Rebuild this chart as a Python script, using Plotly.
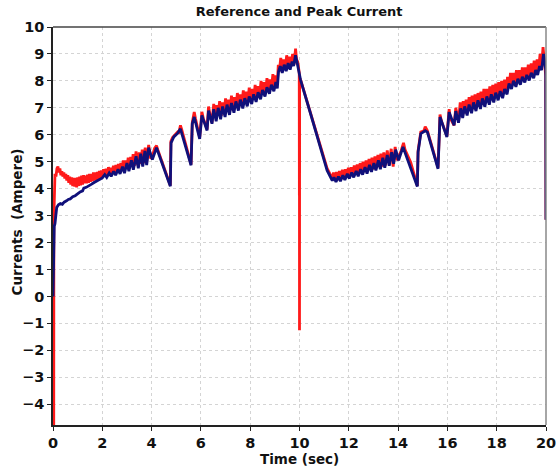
import plotly.graph_objects as go

# Peak current (blue trace): sample times in seconds and currents in amperes
peak_t = [0, 0.015, 0.04, 0.05, 0.08, 0.1, 0.15, 0.22, 0.3, 0.38, 0.45, 0.55, 0.62, 0.7, 0.8, 0.9, 1.0,
          1.1, 1.2, 1.25, 1.35, 1.45, 1.55, 1.65, 1.75, 1.85,
          2.0, 2.10, 2.18, 2.28, 2.36, 2.46, 2.54, 2.64, 2.72, 2.82, 2.90, 3.00, 3.08, 3.18, 3.26, 3.37,
          3.46, 3.56, 3.64, 3.73, 3.80, 3.88, 4.03, 4.20, 4.76, 4.79, 4.90, 5.05, 5.17, 5.60, 5.65, 5.73,
          5.95, 6.04, 6.25, 6.31, 6.45, 6.52, 6.62, 6.70, 6.80, 6.88, 6.98, 7.06, 7.16, 7.24, 7.34, 7.42,
          7.52, 7.60, 7.70, 7.78, 7.88, 7.96, 8.06, 8.14, 8.24, 8.32, 8.42, 8.50, 8.60, 8.68, 8.78, 8.86,
          8.96, 9.04, 9.10, 9.15, 9.22, 9.30, 9.38, 9.46, 9.54, 9.62, 9.70, 9.76, 9.84, 9.92, 10.04, 10.45,
          10.85, 11.12, 11.33, 11.40, 11.48, 11.58, 11.66, 11.76, 11.84, 11.94, 12.02, 12.12, 12.20, 12.30,
          12.38, 12.48, 12.56, 12.66, 12.74, 12.84, 12.92, 13.02, 13.10, 13.20, 13.28, 13.38, 13.46, 13.56,
          13.64, 13.74, 13.82, 13.90, 14.02, 14.20, 14.78, 14.81, 14.92, 15.10, 15.19, 15.62, 15.70, 15.98,
          16.07, 16.27, 16.34, 16.45, 16.54, 16.62, 16.70, 16.80, 16.88, 16.98, 17.06, 17.16, 17.24, 17.34,
          17.42, 17.52, 17.60, 17.70, 17.78, 17.88, 17.96, 18.06, 18.14, 18.24, 18.32, 18.42, 18.50, 18.60,
          18.68, 18.78, 18.86, 18.96, 19.04, 19.14, 19.22, 19.32, 19.40, 19.50, 19.58, 19.66, 19.74, 19.82,
          19.90, 19.96, 19.99, 20.0]
peak_i = [0, 1.2, 1.2, 2.6, 2.7, 3.0, 3.3, 3.4, 3.45, 3.42, 3.5, 3.55, 3.6, 3.62, 3.7, 3.74, 3.82,
          3.88, 3.92, 4.02, 4.05, 4.12, 4.16, 4.22, 4.28, 4.33,
          4.40, 4.52, 4.42, 4.58, 4.46, 4.64, 4.50, 4.72, 4.55, 4.82, 4.58, 4.95, 4.65, 5.05, 4.70, 5.20,
          4.76, 5.30, 4.82, 5.40, 4.88, 5.52, 5.08, 5.52, 4.09, 5.70, 5.92, 6.05, 6.22, 4.87, 6.41, 6.66,
          5.85, 6.72, 6.16, 6.90, 6.41, 6.95, 6.50, 7.00, 6.58, 7.05, 6.66, 7.12, 6.74, 7.18, 6.82, 7.24,
          6.90, 7.30, 6.98, 7.36, 7.06, 7.42, 7.14, 7.50, 7.22, 7.58, 7.32, 7.66, 7.42, 7.76, 7.52, 7.86,
          7.62, 7.96, 7.72, 8.35, 8.55, 8.30, 8.60, 8.36, 8.66, 8.42, 8.72, 8.55, 8.95, 8.60, 8.05, 6.78,
          5.55, 4.68, 4.30, 4.42, 4.25, 4.45, 4.28, 4.50, 4.32, 4.55, 4.38, 4.60, 4.42, 4.66,
          4.46, 4.72, 4.52, 4.80, 4.56, 4.88, 4.62, 4.95, 4.68, 5.05, 4.72, 5.15, 4.78, 5.25,
          4.85, 5.35, 4.92, 5.45, 5.05, 5.55, 4.08, 5.36, 6.04, 6.15, 6.10, 4.74, 6.66, 5.92,
          6.84, 6.35, 6.88, 6.45, 6.98, 6.62, 7.05, 6.72, 7.12, 6.80, 7.20, 6.88, 7.28, 6.96,
          7.35, 7.04, 7.42, 7.12, 7.50, 7.20, 7.56, 7.28, 7.62, 7.36, 7.70, 7.50, 7.90, 7.70,
          8.00, 7.78, 8.08, 7.86, 8.15, 7.94, 8.22, 8.02, 8.30, 8.10, 8.40, 8.22, 8.55, 8.40,
          9.00, 8.60, 8.40, 2.85]

# Reference current (red trace)
ref_t = [0, 0.015, 0.02, 0.03, 0.035, 0.05, 0.08, 0.12, 0.16, 0.2, 0.24, 0.28, 0.32, 0.36, 0.4, 0.44,
         0.48, 0.52, 0.56, 0.6, 0.64, 0.68, 0.72, 0.76, 0.8, 0.84, 0.88, 0.92, 0.96, 1.0, 1.04, 1.08,
         1.12, 1.16, 1.2, 1.24, 1.28, 1.32, 1.36, 1.4, 1.44, 1.48, 1.52, 1.56, 1.6, 1.64, 1.68, 1.72,
         1.76, 1.8, 1.84, 1.88, 1.92, 1.96, 2.0,
         2.05, 2.10, 2.15, 2.20, 2.25, 2.30, 2.35, 2.40, 2.45, 2.50, 2.55, 2.60, 2.65, 2.70, 2.75, 2.80,
         2.85, 2.90, 2.95, 3.00, 3.05, 3.10, 3.15, 3.20, 3.25, 3.30, 3.37, 3.44, 3.50, 3.56, 3.62, 3.68,
         3.74, 3.80, 3.88, 3.96, 4.03, 4.12, 4.20, 4.25,
         4.76, 4.78, 4.85, 4.95, 5.05, 5.10, 5.17, 5.22, 5.60, 5.65, 5.73, 5.78, 5.95, 6.04, 6.10, 6.25,
         6.31, 6.38, 6.45,
         6.52, 6.58, 6.64, 6.70, 6.76, 6.82, 6.88, 6.94, 7.00, 7.06, 7.12, 7.18, 7.24, 7.30, 7.36, 7.42,
         7.48, 7.54, 7.60, 7.66, 7.72, 7.78, 7.84, 7.90, 7.96, 8.02, 8.08, 8.14, 8.20, 8.26, 8.32, 8.38,
         8.44, 8.50, 8.56, 8.62, 8.68, 8.74, 8.80, 8.86, 8.92, 8.98, 9.04, 9.10, 9.14, 9.18, 9.24, 9.30,
         9.36, 9.42, 9.48, 9.54, 9.60, 9.66, 9.72, 9.78, 9.84, 9.88, 9.93, 9.97, 9.99, 9.995, 9.998,
         10.0, 10.005, 10.04,
         10.45, 10.85, 11.12, 11.33,
         11.38, 11.44, 11.50, 11.56, 11.62, 11.68, 11.74, 11.80, 11.86, 11.92, 11.98, 12.04, 12.10, 12.16,
         12.22, 12.28, 12.34, 12.40, 12.46, 12.52, 12.58, 12.64, 12.70, 12.76, 12.82, 12.88, 12.94, 13.00,
         13.06, 13.12, 13.18, 13.24, 13.30, 13.36, 13.42, 13.48, 13.56, 13.64, 13.72, 13.80, 13.88, 13.96,
         14.04, 14.12, 14.22, 14.28,
         14.51, 14.78, 14.81, 14.92, 15.05, 15.10, 15.19, 15.62, 15.70, 15.76, 15.98, 16.07, 16.12, 16.27,
         16.34, 16.40, 16.45,
         16.52, 16.58, 16.64, 16.70, 16.76, 16.82, 16.88, 16.94, 17.00, 17.06, 17.12, 17.18, 17.24, 17.30,
         17.36, 17.42, 17.48, 17.54, 17.60, 17.66, 17.72, 17.78, 17.84, 17.90, 17.96, 18.02, 18.08, 18.14,
         18.20, 18.26, 18.32, 18.38, 18.44, 18.50, 18.56, 18.62, 18.68, 18.74, 18.80, 18.86, 18.92, 18.98,
         19.04, 19.10, 19.16, 19.22, 19.28, 19.34, 19.40, 19.46, 19.52, 19.58, 19.64, 19.70, 19.76, 19.82,
         19.88, 19.92, 19.96, 19.99, 20.0]
ref_i = [0, 0, -5, -5, 2.95, 4.4, 4.55, 4.45, 4.75, 4.82, 4.6, 4.75, 4.5, 4.65, 4.45, 4.6,
         4.38, 4.55, 4.3, 4.5, 4.22, 4.45, 4.15, 4.42, 4.1, 4.4, 4.08, 4.4, 4.05, 4.42, 4.1, 4.45,
         4.12, 4.48, 4.15, 4.5, 4.2, 4.48, 4.2, 4.52, 4.22, 4.55, 4.25, 4.55, 4.28, 4.6, 4.3, 4.6,
         4.33, 4.62, 4.36, 4.66, 4.4, 4.68, 4.42,
         4.72, 4.48, 4.74, 4.50, 4.80, 4.55, 4.78, 4.55, 4.85, 4.60, 4.88, 4.62, 4.92, 4.66, 4.95, 4.68,
         5.05, 4.70, 5.05, 4.75, 5.15, 4.78, 5.18, 4.82, 5.28, 4.85, 5.38, 4.88, 5.35, 4.92, 5.45, 4.95,
         5.52, 4.98, 5.62, 5.12, 5.20, 5.50, 5.60, 5.45,
         4.12, 5.75, 5.90, 6.00, 6.10, 6.05, 6.35, 6.20, 4.90, 6.45, 6.85, 6.60, 5.90, 6.85, 6.60, 6.20,
         7.05, 6.70, 6.45,
         7.15, 6.65, 7.10, 6.75, 7.25, 6.70, 7.20, 6.80, 7.35, 6.85, 7.30, 6.90, 7.45, 6.95, 7.40, 7.00,
         7.55, 7.05, 7.50, 7.10, 7.65, 7.15, 7.60, 7.20, 7.75, 7.25, 7.70, 7.30, 7.85, 7.35, 7.80, 7.45,
         8.00, 7.50, 7.95, 7.55, 8.10, 7.65, 8.05, 7.70, 8.25, 7.80, 8.20, 7.90, 8.60, 8.35, 8.85, 8.40,
         8.80, 8.45, 8.95, 8.50, 8.90, 8.55, 9.00, 8.60, 9.20, 8.80, 8.70, 8.50, 8.30, 3.75, 8.20,
         -1.25, 8.10, 8.05,
         6.82, 5.60, 4.75, 4.38,
         4.60, 4.30, 4.62, 4.32, 4.66, 4.35, 4.70, 4.38, 4.72, 4.42, 4.78, 4.45, 4.80, 4.48,
         4.86, 4.52, 4.90, 4.55, 4.95, 4.60, 5.00, 4.62, 5.05, 4.66, 5.10, 4.70, 5.15, 4.72,
         5.20, 4.76, 5.25, 4.80, 5.30, 4.82, 5.35, 4.86, 5.42, 4.90, 5.48, 4.82, 5.55, 5.05,
         5.20, 5.40, 5.70, 5.45,
         4.98, 4.10, 5.40, 6.10, 6.15, 6.30, 6.15, 4.78, 6.75, 6.50, 5.95, 6.95, 6.60, 6.35,
         7.00, 6.70, 6.50,
         7.20, 6.70, 7.25, 6.80, 7.30, 6.85, 7.40, 6.90, 7.45, 6.95, 7.50, 7.00, 7.55, 7.05,
         7.60, 7.12, 7.70, 7.20, 7.70, 7.25, 7.80, 7.30, 7.85, 7.35, 7.90, 7.42, 7.95, 7.48,
         8.00, 7.55, 8.05, 7.60, 8.15, 7.75, 8.30, 7.85, 8.30, 7.90, 8.40, 7.95, 8.40, 8.00,
         8.50, 8.05, 8.50, 8.10, 8.60, 8.15, 8.65, 8.25, 8.75, 8.30, 8.80, 8.40, 9.00, 8.50,
         9.25, 8.80, 8.60, 8.20, 2.85]

x_ticks = [0, 2, 4, 6, 8, 10, 12, 14, 16, 18, 20]
y_ticks = [-4, -3, -2, -1, 0, 1, 2, 3, 4, 5, 6, 7, 8, 9, 10]

FONT = "DejaVu Sans"
TEXT = "#111111"

fig = go.Figure()
fig.add_trace(go.Scatter(x=ref_t, y=ref_i, mode="lines", name="Reference",
                         line=dict(color="#ff1a1a", width=2.8), hoverinfo="skip"))
fig.add_trace(go.Scatter(x=peak_t, y=peak_i, mode="lines", name="Peak",
                         line=dict(color="#10107a", width=2.8), hoverinfo="skip"))

axis_common = dict(
    showgrid=True, gridcolor="#d4d4d4", griddash="dot", gridwidth=1,
    showline=True, linecolor="#222222", linewidth=1.5,
    ticks="outside", ticklen=4, tickcolor="#222222",
    tickfont=dict(family=FONT, size=14.5, color=TEXT, weight="bold"),
    zeroline=False, automargin=False,
)

fig.update_xaxes(range=[0, 20], tickvals=x_ticks, **axis_common)
fig.update_yaxes(range=[-4.77, 10], tickvals=y_ticks, **axis_common)

# thin grey frame on the top and right sides of the plot area
fig.add_shape(type="line", xref="paper", yref="paper", x0=0, x1=1, y0=1, y1=1,
              line=dict(color="#444444", width=1.5))
fig.add_shape(type="line", xref="paper", yref="paper", x0=1, x1=1, y0=0, y1=1,
              line=dict(color="#888888", width=1.5))

# axis titles
fig.add_annotation(text="<b>Time (sec)</b>", xref="paper", yref="paper", x=0.50, y=-0.085,
                   xanchor="center", yanchor="middle", showarrow=False,
                   font=dict(family=FONT, size=13.5, color=TEXT))
fig.add_annotation(text="<b>Currents  (Ampere)</b>", xref="paper", yref="paper", x=-0.072, y=0.51,
                   xanchor="center", yanchor="middle", showarrow=False, textangle=-90,
                   font=dict(family=FONT, size=13.5, color=TEXT))

fig.update_layout(
    width=557, height=473,
    margin=dict(l=53, r=11, t=27, b=48),
    paper_bgcolor="white", plot_bgcolor="white",
    showlegend=False,
    title=dict(text="<b>Reference and Peak Current</b>", x=0.537, xanchor="center",
               y=0.975, yanchor="middle",
               font=dict(family=FONT, size=13, color=TEXT)),
)

fig.write_html("out.html")
